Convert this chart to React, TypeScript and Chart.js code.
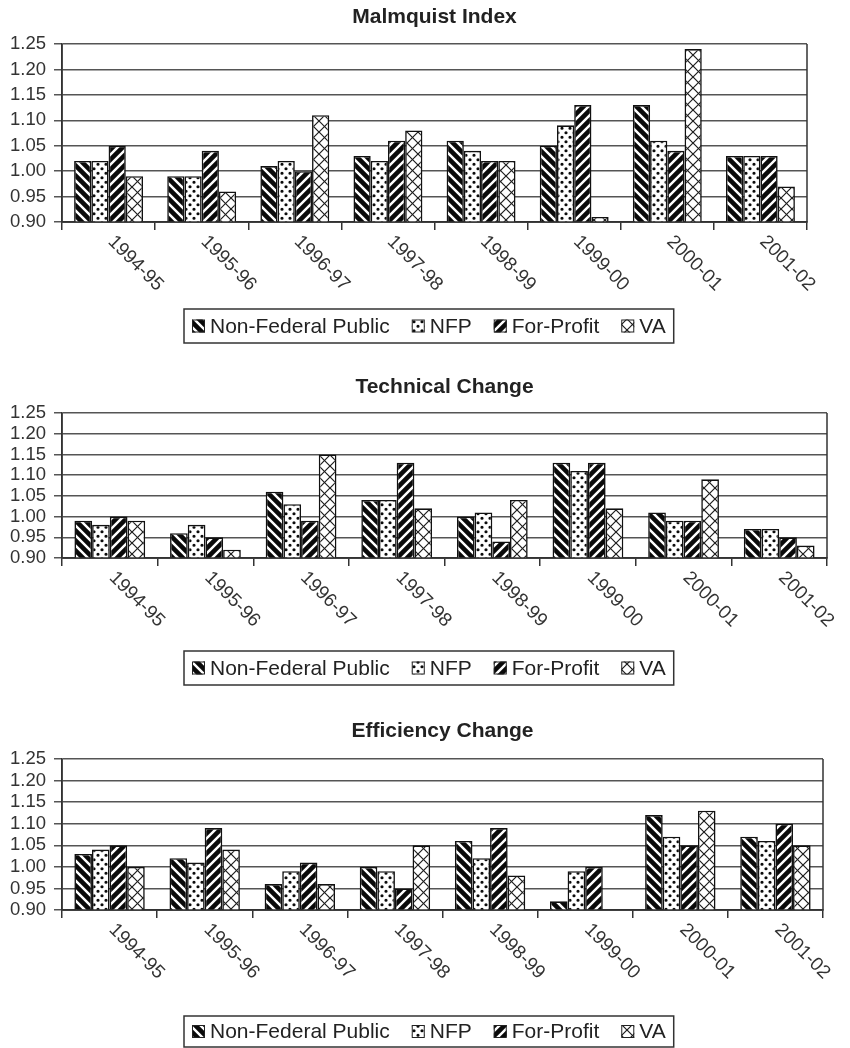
import React, { useEffect, useRef } from 'react';
import { Chart, registerables } from 'chart.js';

Chart.register(...registerables);

// Fiscal-year periods on the category axis
const periods = ['1994-95', '1995-96', '1996-97', '1997-98', '1998-99', '1999-00', '2000-01', '2001-02'];
const seriesNames = ['Non-Federal Public', 'NFP', 'For-Profit', 'VA'];

// Shared value axis
const axisMin = 0.9;
const axisMax = 1.25;
const axisStep = 0.05;

// Malmquist productivity index
const malmquistPublic = [1.02, 0.99, 1.01, 1.03, 1.06, 1.05, 1.13, 1.03];
const malmquistNfp = [1.02, 0.99, 1.02, 1.02, 1.04, 1.09, 1.06, 1.03];
const malmquistForProfit = [1.05, 1.04, 1.0, 1.06, 1.02, 1.13, 1.04, 1.03];
const malmquistVa = [0.99, 0.96, 1.11, 1.08, 1.02, 0.91, 1.24, 0.97];

// Technical change component
const technicalPublic = [0.99, 0.96, 1.06, 1.04, 1.0, 1.13, 1.01, 0.97];
const technicalNfp = [0.98, 0.98, 1.03, 1.04, 1.01, 1.11, 0.99, 0.97];
const technicalForProfit = [1.0, 0.95, 0.99, 1.13, 0.94, 1.13, 0.99, 0.95];
const technicalVa = [0.99, 0.92, 1.15, 1.02, 1.04, 1.02, 1.09, 0.93];

// Efficiency change component
const efficiencyPublic = [1.03, 1.02, 0.96, 1.0, 1.06, 0.92, 1.12, 1.07];
const efficiencyNfp = [1.04, 1.01, 0.99, 0.99, 1.02, 0.99, 1.07, 1.06];
const efficiencyForProfit = [1.05, 1.09, 1.01, 0.95, 1.09, 1.0, 1.05, 1.1];
const efficiencyVa = [1.0, 1.04, 0.96, 1.05, 0.98, 0.89, 1.13, 1.05];

const FONT = '"Liberation Sans", Arial, Helvetica, sans-serif';

type PatternKind = 'back' | 'dots' | 'fwd' | 'cross';
const seriesPatterns: PatternKind[] = ['back', 'dots', 'fwd', 'cross'];

function makePattern(ctx: CanvasRenderingContext2D, kind: PatternKind): CanvasPattern {
  const w = kind === 'dots' ? 8 : kind === 'cross' ? 11 : 10;
  const h = kind === 'dots' ? 9 : w;
  const tile = document.createElement('canvas');
  tile.width = w;
  tile.height = h;
  const t = tile.getContext('2d') as CanvasRenderingContext2D;
  t.fillStyle = '#ffffff';
  t.fillRect(0, 0, w, h);
  t.strokeStyle = kind === 'cross' ? '#1e1e1e' : '#0a0a0a';
  t.fillStyle = '#0a0a0a';
  t.lineWidth = kind === 'cross' ? 1.2 : 4.6;
  const s = w;
  if (kind === 'back' || kind === 'cross') {
    t.beginPath();
    for (const c of [-s, 0, s]) {
      t.moveTo(-2, c - 2);
      t.lineTo(s + 2, c + s + 2);
    }
    t.stroke();
  }
  if (kind === 'fwd' || kind === 'cross') {
    t.beginPath();
    for (const c of [0, s, 2 * s]) {
      t.moveTo(-2, c + 2);
      t.lineTo(s + 2, c - s - 2);
    }
    t.stroke();
  }
  if (kind === 'dots') {
    t.beginPath();
    t.arc(2, 2.25, 1.6, 0, Math.PI * 2);
    t.closePath();
    t.moveTo(7.6, 6.75);
    t.arc(6, 6.75, 1.6, 0, Math.PI * 2);
    t.fill();
  }
  return ctx.createPattern(tile, 'repeat') as CanvasPattern;
}

interface PanelLayout {
  top: number;
  height: number;
  plotTop: number;
  plotBottom: number;
  plotRight: number;
  titleBaseline: number;
  legendTop: number;
  legendHeight: number;
}

interface PanelProps {
  title: string;
  series: number[][];
  layout: PanelLayout;
}

function Panel({ title, series, layout }: PanelProps) {
  const canvasRef = useRef<HTMLCanvasElement | null>(null);

  useEffect(() => {
    const canvas = canvasRef.current;
    if (!canvas) return;
    const ctx = canvas.getContext('2d') as CanvasRenderingContext2D;
    const patterns = seriesPatterns.map((k) => makePattern(ctx, k));

    const decor = {
      id: 'panelDecor',
      afterDraw(chart: Chart) {
        const c = chart.ctx;
        const a = chart.chartArea;
        const xs = chart.scales.x;
        const ys = chart.scales.y;
        c.save();

        // plot frame
        c.strokeStyle = '#333';
        c.lineWidth = 1.5;
        c.beginPath();
        c.moveTo(a.left, a.top);
        c.lineTo(a.left, a.bottom);
        c.lineTo(a.right, a.bottom);
        c.lineTo(a.right, a.top);
        c.stroke();

        // title
        c.fillStyle = '#222';
        c.font = `bold 21px ${FONT}`;
        c.textAlign = 'center';
        c.textBaseline = 'alphabetic';
        c.fillText(title, (a.left + a.right) / 2, layout.titleBaseline);

        // value axis labels
        c.fillStyle = '#333';
        c.font = `18.5px ${FONT}`;
        c.textAlign = 'right';
        c.textBaseline = 'middle';
        ys.ticks.forEach((tk) => {
          c.fillText(Number(tk.value).toFixed(2), a.left - 16, ys.getPixelForValue(tk.value));
        });

        // period labels, slanted downward
        c.font = `19px ${FONT}`;
        c.textAlign = 'left';
        c.textBaseline = 'top';
        periods.forEach((p, i) => {
          const x = xs.getPixelForTick(i);
          c.save();
          c.translate(x + 9, a.bottom + 10);
          c.rotate(Math.PI / 4);
          c.fillText(p, 0, 0);
          c.restore();
        });

        // boxed legend
        c.font = `21px ${FONT}`;
        const widths = seriesNames.map((n) => c.measureText(n).width);
        const padX = 8;
        const sw = 13;
        const gapST = 5;
        const gapItems = 22;
        const total =
          padX * 2 +
          seriesNames.length * (sw + gapST) +
          widths.reduce((s, w) => s + w, 0) +
          gapItems * (seriesNames.length - 1);
        const left = 184;
        const top = layout.legendTop;
        c.strokeStyle = '#333';
        c.lineWidth = 1.5;
        c.strokeRect(left, top, total, layout.legendHeight);
        const cy = top + layout.legendHeight / 2;
        let x = left + padX;
        seriesNames.forEach((name, i) => {
          c.fillStyle = patterns[i];
          c.fillRect(x, cy - sw / 2, sw, sw);
          c.strokeStyle = '#222';
          c.lineWidth = 1;
          c.strokeRect(x + 0.5, cy - sw / 2 + 0.5, sw - 1, sw - 1);
          x += sw + gapST;
          c.fillStyle = '#222';
          c.textAlign = 'left';
          c.textBaseline = 'middle';
          c.fillText(name, x, cy + 1);
          x += widths[i] + gapItems;
        });

        c.restore();
      },
    };

    const chart = new Chart(canvas, {
      type: 'bar',
      data: {
        labels: periods,
        datasets: series.map((values, i) => ({
          label: seriesNames[i],
          data: values,
          backgroundColor: patterns[i],
          borderColor: '#111',
          borderWidth: 1.6,
          barPercentage: 1,
          categoryPercentage: 0.74,
        })),
      },
      options: {
        responsive: false,
        animation: false,
        events: [],
        layout: {
          padding: {
            top: layout.plotTop,
            left: 54,
            right: 850 - layout.plotRight,
            bottom: layout.height - layout.plotBottom - 8,
          },
        },
        plugins: {
          legend: { display: false },
          title: { display: false },
          tooltip: { enabled: false },
        },
        scales: {
          x: {
            offset: true,
            ticks: { display: false },
            grid: {
              offset: true,
              drawOnChartArea: false,
              drawTicks: true,
              tickLength: 8,
              color: '#333',
              lineWidth: 1.5,
            },
            border: { display: true, color: '#333', width: 1.5 },
          },
          y: {
            min: axisMin,
            max: axisMax,
            ticks: { display: false, stepSize: axisStep },
            grid: {
              drawTicks: true,
              tickLength: 8,
              color: '#555',
              lineWidth: 1.5,
            },
            border: { display: true, color: '#333', width: 1.5 },
          },
        },
      },
      plugins: [decor],
    });

    return () => chart.destroy();
  }, [title, series, layout]);

  return (
    <canvas
      ref={canvasRef}
      width={850}
      height={layout.height}
      style={{ position: 'absolute', left: 0, top: layout.top, display: 'block' }}
    />
  );
}

const malmquistLayout: PanelLayout = {
  top: 0, height: 345, plotTop: 44, plotBottom: 222, plotRight: 807,
  titleBaseline: 23, legendTop: 309, legendHeight: 34,
};
const technicalLayout: PanelLayout = {
  top: 345, height: 355, plotTop: 68, plotBottom: 213, plotRight: 827,
  titleBaseline: 48, legendTop: 306, legendHeight: 34,
};
const efficiencyLayout: PanelLayout = {
  top: 700, height: 348, plotTop: 59, plotBottom: 210, plotRight: 823,
  titleBaseline: 37, legendTop: 316, legendHeight: 31,
};

const malmquistSeries = [malmquistPublic, malmquistNfp, malmquistForProfit, malmquistVa];
const technicalSeries = [technicalPublic, technicalNfp, technicalForProfit, technicalVa];
const efficiencySeries = [efficiencyPublic, efficiencyNfp, efficiencyForProfit, efficiencyVa];

export default function App() {
  return (
    <div style={{ position: 'absolute', left: 0, top: 0, width: 850, height: 1048, background: '#fff', overflow: 'hidden' }}>
      <Panel title="Malmquist Index" series={malmquistSeries} layout={malmquistLayout} />
      <Panel title="Technical Change" series={technicalSeries} layout={technicalLayout} />
      <Panel title="Efficiency Change" series={efficiencySeries} layout={efficiencyLayout} />
    </div>
  );
}
